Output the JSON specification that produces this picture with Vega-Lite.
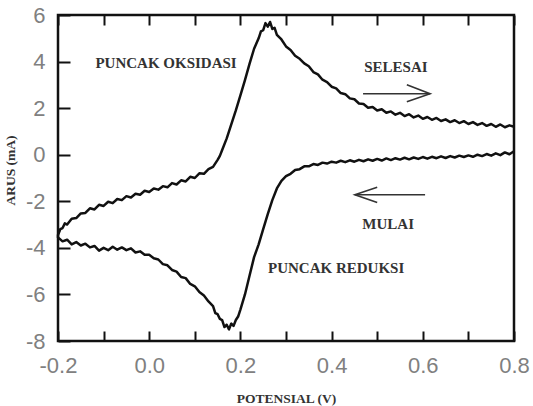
{
  "$schema": "https://vega.github.io/schema/vega-lite/v6.json",
  "width": 456,
  "height": 326,
  "autosize": {"type": "none"},
  "padding": {"left": 58, "top": 15, "right": 19, "bottom": 65},
  "background": "white",
  "config": {
    "view": {"stroke": "#111", "strokeWidth": 2.5},
    "axis": {
      "grid": false,
      "domain": false,
      "labelFont": "Liberation Sans",
      "labelFontSize": 22,
      "labelColor": "#808080",
      "tickColor": "#111",
      "tickWidth": 2,
      "titleFont": "Liberation Serif",
      "titleFontWeight": "bold",
      "titleColor": "#333",
      "labelFlush": false,
      "labelOverlap": false
    }
  },
  "datasets": {
    "cv": [
      {"v": 0.80, "i": 0.15}, {"v": 0.79, "i": 0.02}, {"v": 0.78, "i": 0.10}, {"v": 0.77, "i": -0.02}, {"v": 0.76, "i": 0.06},
      {"v": 0.75, "i": -0.04}, {"v": 0.74, "i": 0.03}, {"v": 0.73, "i": -0.06}, {"v": 0.72, "i": 0.00}, {"v": 0.71, "i": -0.09},
      {"v": 0.70, "i": -0.03}, {"v": 0.69, "i": -0.10}, {"v": 0.68, "i": -0.04}, {"v": 0.67, "i": -0.12}, {"v": 0.66, "i": -0.06},
      {"v": 0.65, "i": -0.14}, {"v": 0.64, "i": -0.07}, {"v": 0.63, "i": -0.15}, {"v": 0.62, "i": -0.09}, {"v": 0.61, "i": -0.17},
      {"v": 0.60, "i": -0.10}, {"v": 0.59, "i": -0.18}, {"v": 0.58, "i": -0.12}, {"v": 0.57, "i": -0.20}, {"v": 0.56, "i": -0.13},
      {"v": 0.55, "i": -0.21}, {"v": 0.54, "i": -0.15}, {"v": 0.53, "i": -0.23}, {"v": 0.52, "i": -0.16}, {"v": 0.51, "i": -0.25},
      {"v": 0.50, "i": -0.18}, {"v": 0.49, "i": -0.26}, {"v": 0.48, "i": -0.20}, {"v": 0.47, "i": -0.28}, {"v": 0.46, "i": -0.22},
      {"v": 0.45, "i": -0.30}, {"v": 0.44, "i": -0.24}, {"v": 0.43, "i": -0.32}, {"v": 0.42, "i": -0.26}, {"v": 0.41, "i": -0.34},
      {"v": 0.40, "i": -0.30}, {"v": 0.39, "i": -0.38}, {"v": 0.38, "i": -0.34}, {"v": 0.37, "i": -0.44}, {"v": 0.36, "i": -0.40},
      {"v": 0.35, "i": -0.50}, {"v": 0.34, "i": -0.50}, {"v": 0.33, "i": -0.62}, {"v": 0.32, "i": -0.66}, {"v": 0.31, "i": -0.82},
      {"v": 0.30, "i": -0.92}, {"v": 0.29, "i": -1.12}, {"v": 0.28, "i": -1.45}, {"v": 0.27, "i": -1.95}, {"v": 0.26, "i": -2.55},
      {"v": 0.25, "i": -3.20}, {"v": 0.24, "i": -3.85}, {"v": 0.23, "i": -4.40}, {"v": 0.22, "i": -5.20}, {"v": 0.21, "i": -6.00},
      {"v": 0.20, "i": -6.65}, {"v": 0.195, "i": -6.95}, {"v": 0.19, "i": -7.10}, {"v": 0.185, "i": -7.35}, {"v": 0.18, "i": -7.25},
      {"v": 0.175, "i": -7.50}, {"v": 0.17, "i": -7.30}, {"v": 0.165, "i": -7.40}, {"v": 0.16, "i": -7.10}, {"v": 0.155, "i": -7.05},
      {"v": 0.15, "i": -6.85}, {"v": 0.145, "i": -6.80}, {"v": 0.14, "i": -6.50}, {"v": 0.13, "i": -6.30}, {"v": 0.12, "i": -6.05},
      {"v": 0.11, "i": -5.90}, {"v": 0.10, "i": -5.65}, {"v": 0.09, "i": -5.55}, {"v": 0.08, "i": -5.30}, {"v": 0.07, "i": -5.25},
      {"v": 0.06, "i": -5.02}, {"v": 0.05, "i": -4.95}, {"v": 0.04, "i": -4.75}, {"v": 0.03, "i": -4.70}, {"v": 0.02, "i": -4.50},
      {"v": 0.01, "i": -4.45}, {"v": 0.00, "i": -4.30}, {"v": -0.01, "i": -4.30}, {"v": -0.02, "i": -4.15}, {"v": -0.03, "i": -4.20},
      {"v": -0.04, "i": -4.02}, {"v": -0.05, "i": -4.10}, {"v": -0.06, "i": -3.98}, {"v": -0.07, "i": -4.08}, {"v": -0.08, "i": -3.95},
      {"v": -0.09, "i": -4.10}, {"v": -0.10, "i": -4.00}, {"v": -0.11, "i": -4.12}, {"v": -0.12, "i": -3.92}, {"v": -0.13, "i": -3.98},
      {"v": -0.14, "i": -3.82}, {"v": -0.15, "i": -3.90}, {"v": -0.16, "i": -3.75}, {"v": -0.17, "i": -3.85}, {"v": -0.18, "i": -3.65},
      {"v": -0.19, "i": -3.72}, {"v": -0.20, "i": -3.55},
      {"v": -0.20, "i": -3.45}, {"v": -0.195, "i": -3.20}, {"v": -0.19, "i": -3.15}, {"v": -0.185, "i": -2.95}, {"v": -0.18, "i": -3.00},
      {"v": -0.17, "i": -2.75}, {"v": -0.16, "i": -2.72}, {"v": -0.15, "i": -2.52}, {"v": -0.14, "i": -2.50}, {"v": -0.13, "i": -2.30},
      {"v": -0.12, "i": -2.35}, {"v": -0.11, "i": -2.15}, {"v": -0.10, "i": -2.20}, {"v": -0.09, "i": -2.02}, {"v": -0.08, "i": -2.08},
      {"v": -0.07, "i": -1.90}, {"v": -0.06, "i": -1.95}, {"v": -0.05, "i": -1.78}, {"v": -0.04, "i": -1.84}, {"v": -0.03, "i": -1.68},
      {"v": -0.02, "i": -1.72}, {"v": -0.01, "i": -1.55}, {"v": 0.00, "i": -1.60}, {"v": 0.01, "i": -1.45}, {"v": 0.02, "i": -1.50},
      {"v": 0.03, "i": -1.35}, {"v": 0.04, "i": -1.40}, {"v": 0.05, "i": -1.22}, {"v": 0.06, "i": -1.28}, {"v": 0.07, "i": -1.10},
      {"v": 0.08, "i": -1.15}, {"v": 0.09, "i": -0.95}, {"v": 0.10, "i": -1.00}, {"v": 0.11, "i": -0.80}, {"v": 0.12, "i": -0.82},
      {"v": 0.13, "i": -0.62}, {"v": 0.14, "i": -0.52}, {"v": 0.15, "i": -0.22}, {"v": 0.155, "i": -0.05}, {"v": 0.16, "i": 0.20},
      {"v": 0.17, "i": 0.70}, {"v": 0.18, "i": 1.30}, {"v": 0.19, "i": 1.90}, {"v": 0.20, "i": 2.55}, {"v": 0.21, "i": 3.20},
      {"v": 0.22, "i": 3.90}, {"v": 0.23, "i": 4.55}, {"v": 0.24, "i": 5.00}, {"v": 0.245, "i": 5.30}, {"v": 0.25, "i": 5.35},
      {"v": 0.255, "i": 5.65}, {"v": 0.26, "i": 5.50}, {"v": 0.265, "i": 5.70}, {"v": 0.27, "i": 5.40}, {"v": 0.275, "i": 5.45},
      {"v": 0.28, "i": 5.15}, {"v": 0.29, "i": 4.95}, {"v": 0.30, "i": 4.65}, {"v": 0.31, "i": 4.50}, {"v": 0.32, "i": 4.25},
      {"v": 0.33, "i": 4.12}, {"v": 0.34, "i": 3.92}, {"v": 0.35, "i": 3.80}, {"v": 0.36, "i": 3.55}, {"v": 0.37, "i": 3.45},
      {"v": 0.38, "i": 3.22}, {"v": 0.39, "i": 3.12}, {"v": 0.40, "i": 2.92}, {"v": 0.41, "i": 2.85}, {"v": 0.42, "i": 2.65},
      {"v": 0.43, "i": 2.60}, {"v": 0.44, "i": 2.42}, {"v": 0.45, "i": 2.38}, {"v": 0.46, "i": 2.20}, {"v": 0.47, "i": 2.18},
      {"v": 0.48, "i": 2.02}, {"v": 0.49, "i": 2.05}, {"v": 0.50, "i": 1.90}, {"v": 0.51, "i": 1.95}, {"v": 0.52, "i": 1.80},
      {"v": 0.53, "i": 1.86}, {"v": 0.54, "i": 1.72}, {"v": 0.55, "i": 1.80}, {"v": 0.56, "i": 1.66}, {"v": 0.57, "i": 1.74},
      {"v": 0.58, "i": 1.60}, {"v": 0.59, "i": 1.68}, {"v": 0.60, "i": 1.54}, {"v": 0.61, "i": 1.62}, {"v": 0.62, "i": 1.50},
      {"v": 0.63, "i": 1.58}, {"v": 0.64, "i": 1.45}, {"v": 0.65, "i": 1.52}, {"v": 0.66, "i": 1.40}, {"v": 0.67, "i": 1.48},
      {"v": 0.68, "i": 1.36}, {"v": 0.69, "i": 1.44}, {"v": 0.70, "i": 1.32}, {"v": 0.71, "i": 1.40}, {"v": 0.72, "i": 1.28},
      {"v": 0.73, "i": 1.36}, {"v": 0.74, "i": 1.24}, {"v": 0.75, "i": 1.32}, {"v": 0.76, "i": 1.20}, {"v": 0.77, "i": 1.30},
      {"v": 0.78, "i": 1.18}, {"v": 0.79, "i": 1.26}, {"v": 0.80, "i": 1.20}
    ],
    "arrows": [
      {"g": "r1", "v": 0.469, "i": 2.62}, {"g": "r1", "v": 0.616, "i": 2.62},
      {"g": "r2", "v": 0.565, "i": 3.0}, {"g": "r2", "v": 0.616, "i": 2.62}, {"g": "r2", "v": 0.565, "i": 2.27},
      {"g": "l1", "v": 0.605, "i": -1.72}, {"g": "l1", "v": 0.451, "i": -1.72},
      {"g": "l2", "v": 0.50, "i": -1.40}, {"g": "l2", "v": 0.451, "i": -1.72}, {"g": "l2", "v": 0.50, "i": -2.05}
    ],
    "labels": [
      {"v": 0.037, "i": 3.95, "t": "PUNCAK OKSIDASI"},
      {"v": 0.541, "i": 3.78, "t": "SELESAI"},
      {"v": 0.524, "i": -2.96, "t": "MULAI"},
      {"v": 0.41, "i": -4.85, "t": "PUNCAK REDUKSI"}
    ]
  },
  "encoding": {
    "y": {
      "field": "i",
      "type": "quantitative",
      "scale": {"domain": [-8, 6], "nice": false, "zero": false},
      "axis": {
        "title": "ARUS (mA)",
        "titleFontSize": 13.5,
        "values": [-8, -6, -4, -2, 0, 2, 4, 6],
        "tickSize": -12,
        "labelPadding": 25,
        "labelExpr": "replace(format(datum.value, 'd'), '\u2212', '-')",
        "titleX": -41,
        "titleY": 155
      }
    }
  },
  "layer": [
    {
      "data": {"name": "cv"},
      "mark": {"type": "line", "color": "#111", "strokeWidth": 2.5, "strokeJoin": "round"},
      "encoding": {
        "x": {
          "field": "v",
          "type": "quantitative",
          "scale": {"domain": [-0.2, 0.8], "nice": false, "zero": false},
          "axis": {
            "orient": "bottom",
            "title": "POTENSIAL (V)",
            "titleFontSize": 13.5,
            "values": [-0.2, -0.1, 0, 0.1, 0.2, 0.3, 0.4, 0.5, 0.6, 0.7, 0.8],
            "tickSize": -10,
            "labelPadding": 24,
            "labelExpr": "abs(round(datum.value * 10)) % 2 == 0 ? replace(format(datum.value, '.1f'), '\u2212', '-') : ''",
            "titleY": 50,
            "titleBaseline": "top"
          }
        },
        "order": {"value": null}
      }
    },
    {
      "data": {"name": "arrows"},
      "mark": {"type": "line", "color": "#333", "strokeWidth": 1.6},
      "encoding": {
        "x": {
          "field": "v",
          "type": "quantitative",
          "axis": {
            "orient": "top",
            "title": null,
            "labels": false,
            "values": [-0.2, -0.1, 0, 0.1, 0.2, 0.3, 0.4, 0.5, 0.6, 0.7, 0.8],
            "tickSize": -10
          }
        },
        "detail": {"field": "g"},
        "order": {"value": null}
      }
    },
    {
      "data": {"name": "labels"},
      "mark": {"type": "text", "font": "Liberation Serif", "fontWeight": "bold", "fontSize": 15, "color": "#333"},
      "encoding": {
        "x": {"field": "v", "type": "quantitative", "axis": null},
        "text": {"field": "t"}
      }
    }
  ],
  "resolve": {"axis": {"x": "independent"}}
}
